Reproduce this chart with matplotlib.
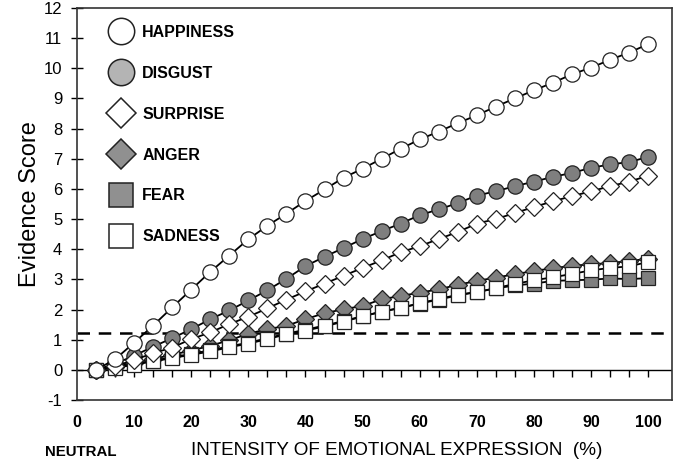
import matplotlib
matplotlib.use("Agg")
import matplotlib.pyplot as plt
from matplotlib.lines import Line2D

plt.rcParams['font.family'] = ['Liberation Sans', 'DejaVu Sans']
plt.rcParams['axes.unicode_minus'] = False

# intensity steps (%)
intensity = [100 * k / 30 for k in range(1, 31)]

happiness = [0.0, 0.35, 0.9, 1.47, 2.07, 2.66, 3.25, 3.79, 4.33, 4.78,
             5.18, 5.6, 5.98, 6.37, 6.67, 7.0, 7.33, 7.64, 7.9, 8.18,
             8.44, 8.73, 9.0, 9.27, 9.52, 9.8, 10.02, 10.28, 10.52, 10.8]
disgust = [0.0, 0.2, 0.47, 0.77, 1.05, 1.35, 1.68, 1.97, 2.3, 2.64,
           3.02, 3.44, 3.75, 4.04, 4.34, 4.6, 4.85, 5.13, 5.32, 5.53,
           5.78, 5.92, 6.09, 6.24, 6.4, 6.53, 6.7, 6.81, 6.89, 7.06]
surprise = [0.0, 0.12, 0.33, 0.55, 0.74, 1.02, 1.24, 1.52, 1.76, 2.04,
            2.33, 2.6, 2.86, 3.12, 3.38, 3.63, 3.9, 4.1, 4.34, 4.57,
            4.85, 5.0, 5.2, 5.4, 5.59, 5.76, 5.92, 6.09, 6.24, 6.44]
anger = [0.0, 0.1, 0.24, 0.36, 0.5, 0.64, 0.8, 0.98, 1.2, 1.35,
         1.46, 1.68, 1.88, 2.01, 2.12, 2.34, 2.45, 2.56, 2.67, 2.82,
         2.95, 3.06, 3.17, 3.28, 3.37, 3.45, 3.5, 3.54, 3.61, 3.68]
fear = [0.0, 0.08, 0.2, 0.3, 0.42, 0.53, 0.65, 0.78, 0.9, 1.05,
        1.2, 1.33, 1.47, 1.62, 1.78, 1.93, 2.06, 2.2, 2.33, 2.47,
        2.58, 2.7, 2.8, 2.86, 2.95, 2.97, 2.99, 3.03, 3.01, 3.04]
sadness = [0.0, 0.06, 0.17, 0.28, 0.39, 0.5, 0.61, 0.75, 0.87, 1.02,
           1.18, 1.3, 1.44, 1.6, 1.77, 1.93, 2.05, 2.21, 2.35, 2.49,
           2.58, 2.71, 2.85, 2.97, 3.07, 3.18, 3.3, 3.38, 3.43, 3.58]

threshold = 1.22
x_ticks = [0, 10, 20, 30, 40, 50, 60, 70, 80, 90, 100]
y_ticks = list(range(-1, 13))

GRAY = '#7f7f7f'
EDGE = '#222222'

# (name, values, marker, size, fill, zorder)
series = [
    ('ANGER', anger, 'D', 9.5, GRAY, 2),
    ('FEAR', fear, 's', 10, GRAY, 3),
    ('SADNESS', sadness, 's', 10, 'white', 4),
    ('DISGUST', disgust, 'o', 11, GRAY, 5),
    ('SURPRISE', surprise, 'D', 9.5, 'white', 6),
    ('HAPPINESS', happiness, 'o', 11, 'white', 7),
]

fig = plt.figure(figsize=(6.75, 4.63), dpi=100)
ax = fig.add_axes([0.114, 0.136, 0.882, 0.847])

for name, vals, mk, ms, fc, z in series:
    ax.plot(intensity, vals, color='black', lw=1.3, marker=mk, ms=ms,
            mfc=fc, mec=EDGE, mew=0.9, zorder=z)

ax.axhline(0, color='black', lw=1, zorder=1)
ax.vlines(intensity, -0.22, 0, color='black', lw=1, zorder=1)
ax.axhline(threshold, color='black', lw=1.8, ls=(0, (5, 3.5)), zorder=1)

ax.set_xlim(0, 104.2)
ax.set_ylim(-1, 12)
ax.set_xticks(x_ticks)
ax.set_yticks(y_ticks)
ax.tick_params(axis='x', length=0, pad=11, labelsize=11.5)
for lab in ax.get_xticklabels():
    lab.set_fontweight('bold')
ax.tick_params(axis='y', direction='inout', length=9, width=1, labelsize=12, pad=6)
for sp in ax.spines.values():
    sp.set_linewidth(1.2)
    sp.set_color('#333333')

ax.set_ylabel('Evidence Score', fontsize=17, labelpad=2)
fig.text(0.588, 0.027, 'INTENSITY OF EMOTIONAL EXPRESSION  (%)', fontsize=13.6,
         ha='center', va='center')
fig.text(0.066, 0.024, 'NEUTRAL', fontsize=10.8, fontweight='bold', ha='left', va='center')

legend_style = [
    ('HAPPINESS', 'o', 19, 'white'),
    ('DISGUST', 'o', 19, '#b4b4b4'),
    ('SURPRISE', 'D', 15, 'white'),
    ('ANGER', 'D', 15, '#909090'),
    ('FEAR', 's', 17, '#909090'),
    ('SADNESS', 's', 17, 'white'),
]
handles = [Line2D([], [], ls='none', marker=mk, ms=ms, mfc=fc, mec=EDGE, mew=1.1,
                  label=name) for name, mk, ms, fc in legend_style]
leg = ax.legend(handles=handles, loc='upper left', bbox_to_anchor=(0.028, 0.985),
                frameon=False, labelspacing=1.62, handletextpad=0.35, borderpad=0.2,
                prop={'size': 11.5, 'weight': 'bold'})

fig.savefig('out.png', dpi=100)
